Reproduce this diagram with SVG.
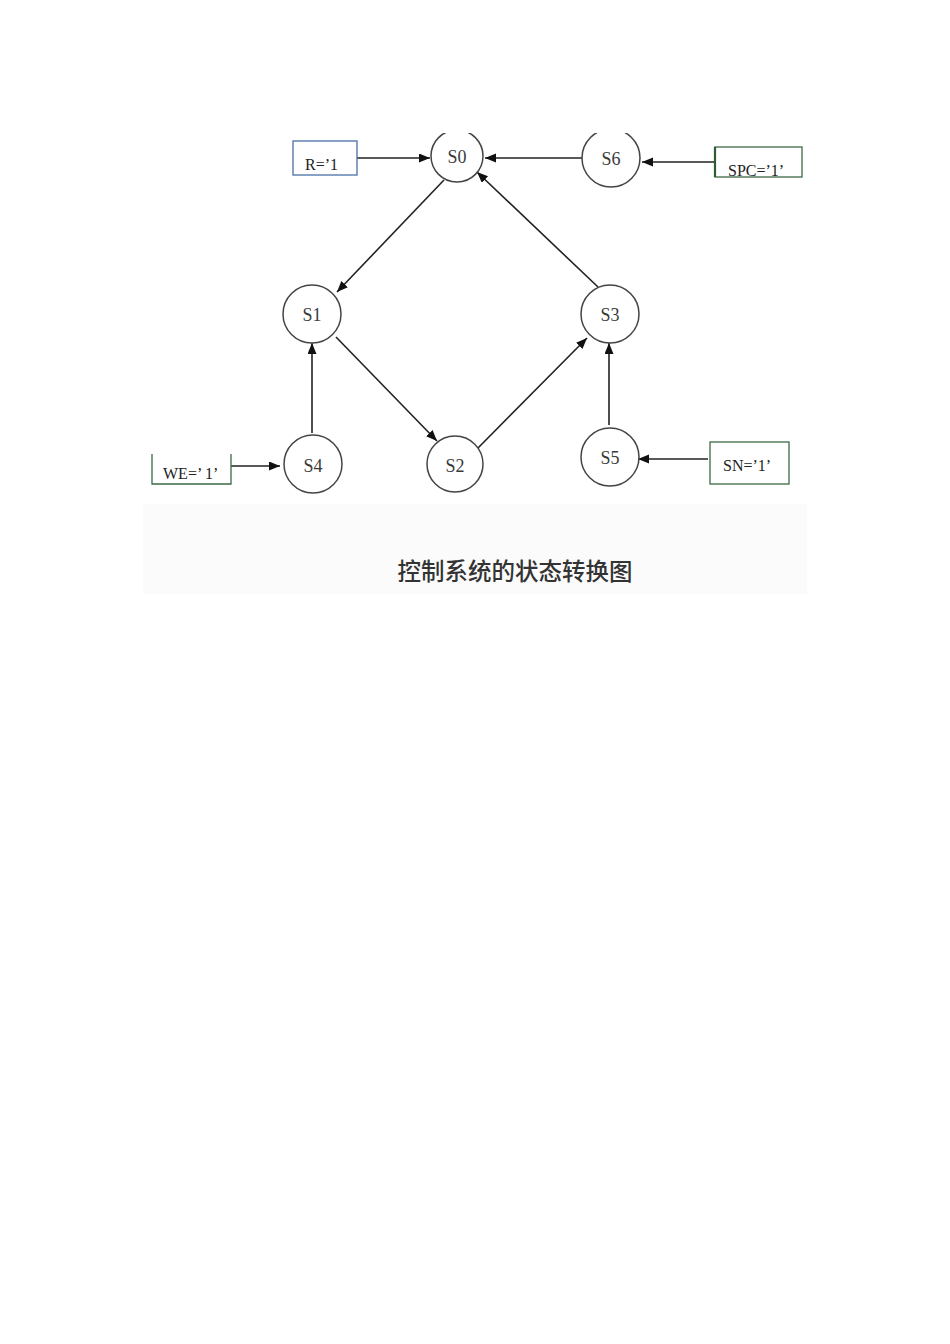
<svg xmlns="http://www.w3.org/2000/svg" width="950" height="1344" viewBox="0 0 950 1344">
<style>
.node circle{fill:#fff;stroke:#444;stroke-width:1.5}
.lbl{font-family:"Liberation Serif","Times New Roman",serif;font-size:18px;fill:#3a3a3a;text-anchor:middle}
.btxt{font-family:"Liberation Serif","Times New Roman",serif;font-size:16px;fill:#222}
.edge line{stroke:#222;stroke-width:1.6;marker-end:url(#ah)}
.gbox{fill:#fff;stroke:#3d6b45;stroke-width:1.3}
</style>
<defs>
<marker id="ah" markerUnits="userSpaceOnUse" markerWidth="12" markerHeight="10" refX="11" refY="4.5" orient="auto">
<path d="M0,0 L11,4.5 L0,9 z" fill="#111"/>
</marker>
<clipPath id="topclip"><rect x="0" y="133" width="950" height="1211"/></clipPath>
</defs>
<rect width="950" height="1344" fill="#fff"/>
<rect x="143" y="504" width="664" height="90" fill="#fbfbfb"/>

<g id="connectors" class="edge">
<line x1="357" y1="158" x2="430" y2="158"/>
<line x1="582" y1="158" x2="485" y2="158"/>
<line x1="714" y1="162" x2="642" y2="162"/>
<line x1="444" y1="180" x2="337" y2="292"/>
<line x1="598" y1="287" x2="477" y2="172"/>
<line x1="336" y1="337" x2="437" y2="441"/>
<line x1="478" y1="448" x2="587" y2="338"/>
<line x1="312" y1="433" x2="312" y2="343"/>
<line x1="609" y1="425" x2="609" y2="343"/>
<line x1="231" y1="466" x2="280" y2="466"/>
<line x1="708" y1="459" x2="638" y2="459"/>
</g>

<g id="S0" class="node" clip-path="url(#topclip)"><circle cx="457" cy="156" r="26"/><text class="lbl" x="457" y="163">S0</text></g>
<g id="S6" class="node" clip-path="url(#topclip)"><circle cx="611" cy="158" r="29"/><text class="lbl" x="611" y="165">S6</text></g>
<g id="S1" class="node"><circle cx="312" cy="314" r="29"/><text class="lbl" x="312" y="321">S1</text></g>
<g id="S3" class="node"><circle cx="610" cy="314" r="29"/><text class="lbl" x="610" y="321">S3</text></g>
<g id="S4" class="node"><circle cx="313" cy="464" r="29"/><text class="lbl" x="313" y="472">S4</text></g>
<g id="S2" class="node"><circle cx="455" cy="464" r="28"/><text class="lbl" x="455" y="472">S2</text></g>
<g id="S5" class="node"><circle cx="610" cy="457" r="29"/><text class="lbl" x="610" y="464">S5</text></g>

<g id="boxR"><rect x="293" y="141" width="64" height="34" fill="#fff" stroke="#4a6fa5" stroke-width="1.3"/><text class="btxt" x="305" y="170">R=’1</text></g>
<g id="boxSPC"><rect class="gbox" x="715" y="147" width="87" height="30"/><line x1="715" y1="147" x2="715" y2="177" stroke="#2f5a37" stroke-width="2.2"/><text class="btxt" x="728" y="176">SPC=’1’</text></g>
<g id="boxWE"><path d="M152,454 V484 H231 V454" fill="#fff" stroke="#3d6b45" stroke-width="1.3"/><text class="btxt" x="163" y="479">WE=’ 1’</text></g>
<g id="boxSN"><rect class="gbox" x="710" y="442" width="79" height="42"/><text class="btxt" x="723" y="471">SN=’1’</text></g>

<text x="515" y="580" font-family="'Noto Sans CJK SC',sans-serif" font-size="23.5" font-weight="500" fill="#333" text-anchor="middle">控制系统的状态转换图</text>
</svg>
